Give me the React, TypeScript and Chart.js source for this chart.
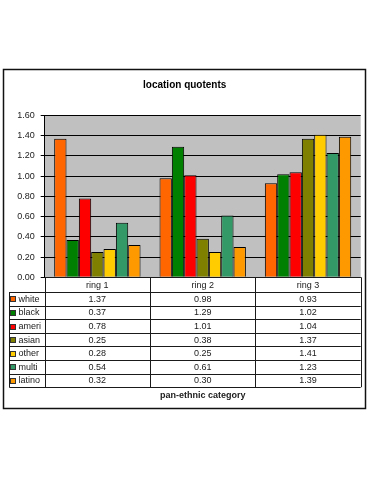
import React, { useEffect, useRef } from "react";
import { Chart, registerables } from "chart.js";

Chart.register(...registerables);

const categories = ["ring 1", "ring 2", "ring 3"];
const seriesNames = ["white", "black", "ameri", "asian", "other", "multi", "latino"];
const seriesColors = ["#FF6600", "#008000", "#FF0000", "#808000", "#FFCC00", "#339966", "#FF9900"];
const white = [1.37, 0.98, 0.93];
const black = [0.37, 1.29, 1.02];
const ameri = [0.78, 1.01, 1.04];
const asian = [0.25, 0.38, 1.37];
const other = [0.28, 0.25, 1.41];
const multi = [0.54, 0.61, 1.23];
const latino = [0.32, 0.3, 1.39];
const seriesValues = [white, black, ameri, asian, other, multi, latino];
const yMin = 0;
const yMax = 1.6;
const yStep = 0.2;
const chartTitle = "location quotents";
const xAxisTitle = "pan-ethnic category";

const FONT = '"Liberation Sans", Arial, sans-serif';

const px = (v: number) => Math.round(v) + 0.5;

const bgPlugin = {
  id: "bgPlugin",
  beforeDraw(chart: any) {
    const { ctx, chartArea } = chart;
    ctx.save();
    ctx.fillStyle = "#ffffff";
    ctx.fillRect(0, 0, chart.width, chart.height);
    ctx.fillStyle = "#C0C0C0";
    ctx.fillRect(chartArea.left, chartArea.top, chartArea.right - chartArea.left, chartArea.bottom - chartArea.top);
    ctx.restore();
  },
};

const tablePlugin = {
  id: "tablePlugin",
  afterDraw(chart: any) {
    const { ctx, chartArea } = chart;
    const n = categories.length;
    const left = chartArea.left;
    const right = chartArea.right;
    const colW = (right - left) / n;
    const top = chartArea.bottom;
    const headerH = 14.7;
    const rowH = 13.6;
    const tableLeft = 9.3;
    const rowsTop = top + headerH;
    const bottom = rowsTop + rowH * seriesNames.length;

    ctx.save();
    ctx.strokeStyle = "#1a1a1a";
    ctx.lineWidth = 1;
    ctx.beginPath();
    ctx.moveTo(left, px(top));
    ctx.lineTo(right, px(top));
    for (let i = 0; i <= n; i++) {
      const x = px(left + i * colW);
      ctx.moveTo(x, top);
      ctx.lineTo(x, bottom);
    }
    ctx.moveTo(px(tableLeft), rowsTop);
    ctx.lineTo(px(tableLeft), bottom);
    for (let k = 0; k <= seriesNames.length; k++) {
      const y = px(rowsTop + k * rowH);
      ctx.moveTo(tableLeft, y);
      ctx.lineTo(right, y);
    }
    ctx.stroke();

    ctx.fillStyle = "#1a1a1a";
    ctx.font = `9px ${FONT}`;
    ctx.textBaseline = "middle";
    ctx.textAlign = "center";
    categories.forEach((c, i) => {
      ctx.fillText(c, left + (i + 0.5) * colW, top + headerH / 2 + 0.5);
    });

    seriesNames.forEach((name, r) => {
      const yc = rowsTop + (r + 0.5) * rowH + 0.5;
      ctx.fillStyle = seriesColors[r];
      ctx.fillRect(10.5, Math.round(yc - 3), 5, 5);
      ctx.strokeStyle = "#333";
      ctx.strokeRect(10.5, Math.round(yc - 3) + 0.5, 5, 5);
      ctx.fillStyle = "#1a1a1a";
      ctx.textAlign = "left";
      ctx.fillText(name, 18.5, yc);
      ctx.textAlign = "center";
      seriesValues[r].forEach((v, i) => {
        ctx.fillText(v.toFixed(2), left + (i + 0.5) * colW, yc);
      });
    });

    ctx.font = `bold 9px ${FONT}`;
    ctx.textAlign = "center";
    ctx.fillText(xAxisTitle, (left + right) / 2, 396);

    ctx.strokeStyle = "#111";
    ctx.lineWidth = 1.5;
    ctx.strokeRect(3.5, 69.5, 362, 339);
    ctx.restore();
  },
};

export default function App() {
  const ref = useRef<HTMLCanvasElement | null>(null);
  useEffect(() => {
    document.body.style.margin = "0";
    const canvas = ref.current;
    if (!canvas) return;
    const chart = new Chart(canvas, {
      type: "bar",
      data: {
        labels: categories,
        datasets: seriesNames.map((name, i) => ({
          label: name,
          data: seriesValues[i],
          backgroundColor: seriesColors[i],
          borderColor: "#000",
          borderWidth: 1,
          categoryPercentage: 0.82,
          barPercentage: 1.0,
        })),
      },
      options: {
        responsive: false,
        animation: false,
        devicePixelRatio: 1,
        layout: { padding: { left: 8.7, right: 14.3, top: 0, bottom: 222.7 } },
        plugins: {
          legend: { display: false },
          tooltip: { enabled: false },
          title: {
            display: true,
            text: chartTitle,
            color: "#000",
            font: { family: FONT, size: 10, weight: "bold" },
            padding: { top: 79.5, bottom: 24 },
          },
        },
        scales: {
          x: { display: false },
          y: {
            min: yMin,
            max: yMax,
            ticks: {
              stepSize: yStep,
              color: "#1a1a1a",
              padding: 6,
              font: { family: FONT, size: 9 },
              callback: (v: any) => Number(v).toFixed(2),
            },
            grid: { color: "#000", lineWidth: 1, tickLength: 4, tickColor: "#000" },
            border: { display: true, color: "#000", width: 1 },
            afterFit: (scale: any) => {
              scale.width = 36;
            },
          },
        },
      },
      plugins: [bgPlugin, tablePlugin],
    } as any);
    return () => chart.destroy();
  }, []);
  return (
    <div style={{ position: "absolute", left: 0, top: 0, width: 375, height: 500 }}>
      <canvas ref={ref} width={375} height={500} style={{ width: 375, height: 500 }} />
    </div>
  );
}
